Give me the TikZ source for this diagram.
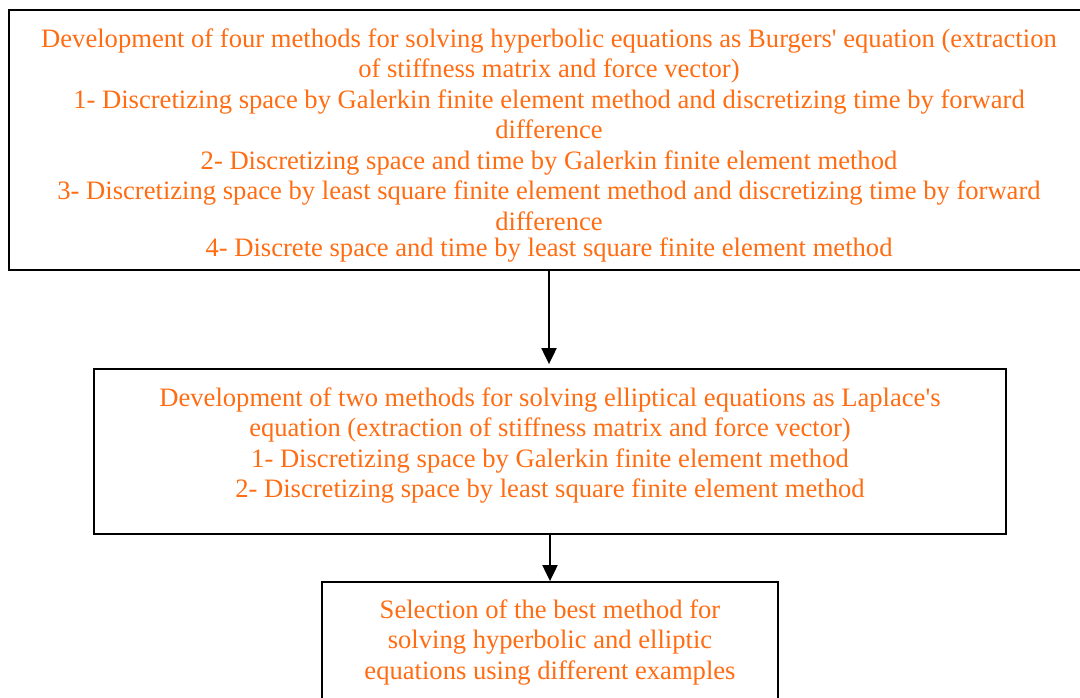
\documentclass[tikz,border=0pt]{standalone}
\usepackage{fontspec}
\setmainfont{Liberation Serif}
\usetikzlibrary{arrows.meta}
\definecolor{txtorange}{RGB}{255,108,18}
\begin{document}
\begin{tikzpicture}[x=1pt,y=1pt,
  frame/.style={draw=black,line width=1.8pt,inner sep=0pt},
  txt/.style={text=txtorange,align=center,inner sep=0pt,anchor=north,
    font=\fontsize{26.6}{30.5}\selectfont},
  arr/.style={draw=black,line width=2pt,-{Triangle[width=15pt,length=16pt]}}]
\useasboundingbox (0,0) rectangle (1080,-697);
% boxes
\node[frame,minimum width=1080,minimum height=260] (b1) at (549,-140) {};
\node[frame,minimum width=912,minimum height=165] (b2) at (550,-451.5) {};
\node[frame,minimum width=456,minimum height=140] (b3) at (550,-652) {};
% texts
\node[txt] (t1) at ([yshift=-19]b1.north) {Development of four methods for solving hyperbolic equations as Burgers\textquotesingle{} equation (extraction\\
of stiffness matrix and force vector)\\
1- Discretizing space by Galerkin finite element method and discretizing time by forward\\
difference\\
2- Discretizing space and time by Galerkin finite element method\\
3- Discretizing space by least square finite element method and discretizing time by forward\\
difference\\[-4pt]
4- Discrete space and time by least square finite element method};
\node[txt] (t2) at ([yshift=-19]b2.north) {Development of two methods for solving elliptical equations as Laplace\textquotesingle s\\
equation (extraction of stiffness matrix and force vector)\\
1- Discretizing space by Galerkin finite element method\\
2- Discretizing space by least square finite element method};
\node[txt] (t3) at ([yshift=-18]b3.north) {Selection of the best method for\\
solving hyperbolic and elliptic\\
equations using different examples};
% connectors
\coordinate (a1) at ([yshift=4]b2.north -| b1.south);
\draw[arr] (b1.south) -- (a1);
\draw[arr] (b2.south) -- (b3.north);
\end{tikzpicture}
\end{document}
